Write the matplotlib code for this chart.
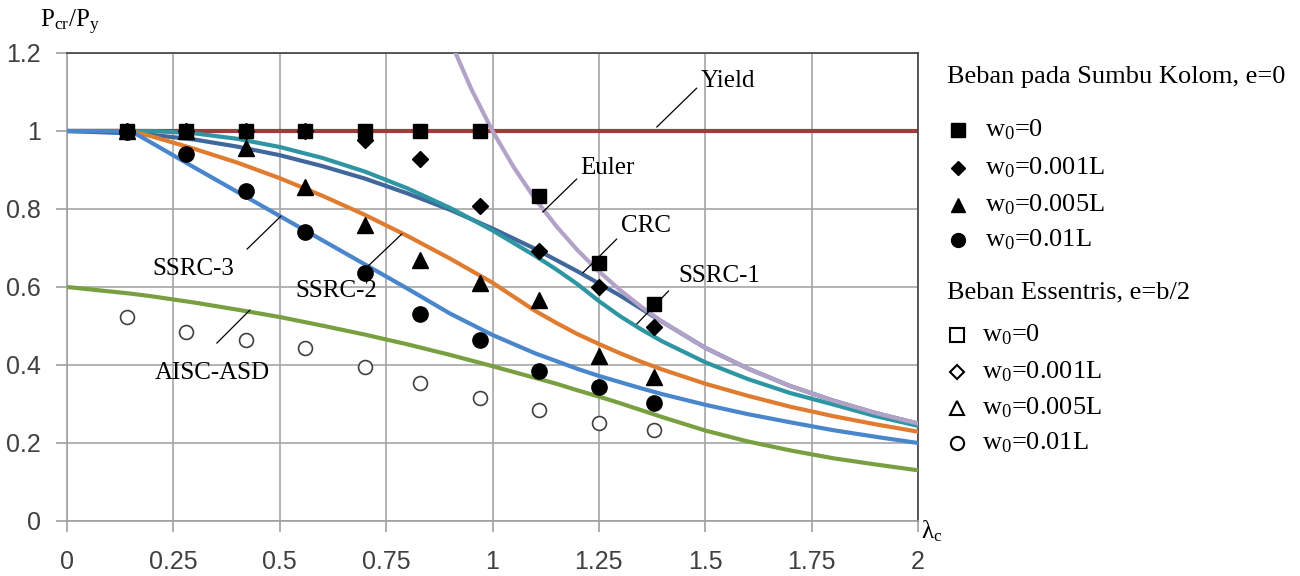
import matplotlib.pyplot as plt
from matplotlib.lines import Line2D

plt.rcParams['mathtext.fontset'] = 'custom'
plt.rcParams['mathtext.rm'] = 'Liberation Serif'
plt.rcParams['mathtext.it'] = 'Liberation Serif:italic'

# kurva teoritis
lam = [0, 0.15, 0.2, 0.3, 0.4, 0.5, 0.6, 0.7, 0.8, 0.9, 1.0, 1.1, 1.15, 1.2,
       1.25, 1.3, 1.35, 1.4, 1.5, 1.6, 1.7, 1.8, 1.9, 2.0]
crc = [1.0, 0.994, 0.990, 0.978, 0.960, 0.938, 0.910, 0.878, 0.840, 0.798, 0.750,
       0.698, 0.669, 0.640, 0.609, 0.578, 0.544, 0.510, 0.444, 0.391, 0.346, 0.309,
       0.277, 0.250]
ssrc1 = [1.0, 1.0, 1.0, 0.994, 0.980, 0.959, 0.931, 0.896, 0.853, 0.803, 0.745,
         0.680, 0.645, 0.607, 0.564, 0.525, 0.491, 0.460, 0.407, 0.364, 0.328, 0.299,
         0.269, 0.244]
ssrc2 = [1.0, 1.0, 0.986, 0.954, 0.919, 0.879, 0.834, 0.785, 0.731, 0.673, 0.611,
         0.539, 0.508, 0.479, 0.454, 0.430, 0.408, 0.388, 0.352, 0.321, 0.293, 0.269,
         0.248, 0.229]
ssrc3 = [1.0, 1.0, 0.969, 0.906, 0.844, 0.782, 0.720, 0.658, 0.596, 0.532, 0.477,
         0.430, 0.410, 0.390, 0.372, 0.356, 0.340, 0.325, 0.298, 0.274, 0.253, 0.233,
         0.216, 0.200]
aisc = [0.600, 0.583, 0.576, 0.560, 0.542, 0.523, 0.501, 0.478, 0.453, 0.426, 0.397,
        0.367, 0.352, 0.335, 0.319, 0.302, 0.284, 0.266, 0.232, 0.204, 0.181, 0.161,
        0.145, 0.130]

lam_euler = [0.91, 0.95, 1.0, 1.05, 1.1, 1.15, 1.2, 1.25, 1.3, 1.35, 1.4, 1.5, 1.6,
             1.7, 1.8, 1.9, 2.0]
euler = [1.208, 1.108, 1.0, 0.907, 0.826, 0.756, 0.694, 0.640, 0.592, 0.549, 0.510,
         0.444, 0.391, 0.346, 0.309, 0.277, 0.250]

lam_yield = [0, 2]
yield_ = [1.0, 1.0]

# hasil analisa
lam_test = [0.14, 0.28, 0.42, 0.56, 0.70, 0.83, 0.97, 1.11, 1.25, 1.38]
w0_0 = [1.0, 1.0, 1.0, 1.0, 1.0, 1.0, 1.0, 0.833, 0.662, 0.556]
w0_001 = [1.0, 1.0, 1.0, 1.0, 0.977, 0.928, 0.808, 0.692, 0.600, 0.497]
w0_005 = [1.0, 1.0, 0.956, 0.856, 0.759, 0.669, 0.610, 0.567, 0.423, 0.369]
w0_01 = [0.997, 0.941, 0.846, 0.741, 0.636, 0.531, 0.464, 0.385, 0.343, 0.302]
w0_01_e = [0.523, 0.485, 0.464, 0.444, 0.395, 0.354, 0.315, 0.285, 0.251, 0.233]

xticks = [0, 0.25, 0.5, 0.75, 1, 1.25, 1.5, 1.75, 2]
xlabels = ['0', '0.25', '0.5', '0.75', '1', '1.25', '1.5', '1.75', '2']
yticks = [0, 0.2, 0.4, 0.6, 0.8, 1.0, 1.2]
ylabels = ['0', '0.2', '0.4', '0.6', '0.8', '1', '1.2']

W, H = 1300, 576
fig = plt.figure(figsize=(13, 5.76), dpi=100)
ax = fig.add_axes([67 / W, 1 - 521 / H, (918 - 67) / W, (521 - 53) / H])

lw = 3.0
ax.plot(lam_yield, yield_, color='#A03C3C', lw=lw, zorder=2)
ax.plot(lam, crc, color='#41689C', lw=lw, zorder=3)
ax.plot(lam, ssrc1, color='#2E95A3', lw=lw, zorder=3)
ax.plot(lam, ssrc2, color='#E07C30', lw=lw, zorder=3)
ax.plot(lam, ssrc3, color='#4A86CB', lw=lw, zorder=3)
ax.plot(lam, aisc, color='#78A040', lw=lw, zorder=3)
ax.plot(lam_euler, euler, color='#B3A2C7', lw=lw, zorder=4)

ax.plot(lam_test, w0_01_e, 'o', ms=10, mfc='white', mec='#404040', mew=1.2, zorder=5)
ax.plot(lam_test, w0_01, 'o', ms=11, color='black', zorder=5)
ax.plot(lam_test, w0_005, '^', ms=11, color='black', zorder=5)
ax.plot(lam_test, w0_001, 'D', ms=8, color='black', zorder=5)
ax.plot(lam_test, w0_0, 's', ms=10, color='black', zorder=5)

ax.set_xlim(0, 2)
ax.set_ylim(0, 1.2)
ax.set_xticks(xticks)
ax.set_xticklabels(xlabels)
ax.set_yticks(yticks)
ax.set_yticklabels(ylabels)
ax.grid(True, color='#a6a6a6', lw=1.2)
ax.set_axisbelow(True)
for s in ['left', 'bottom']:
    ax.spines[s].set_color('#a0a0a0')
    ax.spines[s].set_linewidth(1.2)
for s in ['top', 'right']:
    ax.spines[s].set_color('#404040')
    ax.spines[s].set_linewidth(1.2)
ax.tick_params(axis='both', direction='out', length=8, width=1.2, color='#a0a0a0',
               labelcolor='#404040', labelsize=18)
ax.tick_params(axis='y', pad=11)
ax.tick_params(axis='x', pad=13)
for t in ax.get_xticklabels() + ax.get_yticklabels():
    t.set_fontfamily('Liberation Sans')

serif = 'Liberation Serif'
# label kurva
notes = [
    ('Yield', (1.386, 1.01), (1.48, 1.11), (1.553, 1.128)),
    ('Euler', (1.118, 0.792), (1.198, 0.877), (1.271, 0.905)),
    ('CRC', (1.212, 0.636), (1.292, 0.723), (1.360, 0.756)),
    ('SSRC-1', (1.339, 0.505), (1.414, 0.590), (1.534, 0.628)),
    ('SSRC-3', (0.423, 0.697), (0.503, 0.782), (0.296, 0.646)),
    ('SSRC-2', (0.705, 0.651), (0.787, 0.736), (0.632, 0.589)),
    ('AISC-ASD', (0.352, 0.456), (0.430, 0.541), (0.341, 0.379)),
]
for txt, p1, p2, pt in notes:
    ax.annotate('', xy=p1, xytext=p2,
                arrowprops=dict(arrowstyle='-', color='black', lw=0.9,
                                shrinkA=0, shrinkB=0), zorder=6)
    ax.text(pt[0], pt[1], txt, fontsize=18, family=serif, ha='center', va='center',
            zorder=6)

fig.text(40 / W, 1 - 22 / H, r'P$_\mathrm{cr}$/P$_\mathrm{y}$', fontsize=18,
         family=serif, ha='left', va='center')
fig.text(921 / W, 1 - 531 / H, r'λ$_\mathrm{c}$', fontsize=18, family=serif,
         ha='left', va='center')

# legenda
def fx(px):
    return px / W


def fy(py):
    return 1 - py / H


fig.text(fx(947), fy(77), 'Beban pada Sumbu Kolom, e=0', fontsize=19,
         family=serif, va='center')
fig.text(fx(947), fy(292), 'Beban Essentris, e=b/2', fontsize=19,
         family=serif, va='center')

leg_filled = [('s', 10, 130, r'w$_0$=0'), ('D', 7, 168, r'w$_0$=0.001L'),
              ('^', 10, 205, r'w$_0$=0.005L'), ('o', 10, 240, r'w$_0$=0.01L')]
for m, ms, py, lab in leg_filled:
    fig.add_artist(Line2D([fx(958)], [fy(py)], transform=fig.transFigure,
                          marker=m, ms=ms, color='black', ls='none'))
    fig.text(fx(985), fy(py), lab, fontsize=19, family=serif, va='center')

leg_open = [('s', 9.5, 335, r'w$_0$=0'), ('D', 7, 372, r'w$_0$=0.001L'),
            ('^', 9.5, 408, r'w$_0$=0.005L'), ('o', 9.5, 443, r'w$_0$=0.01L')]
for m, ms, py, lab in leg_open:
    fig.add_artist(Line2D([fx(957)], [fy(py)], transform=fig.transFigure,
                          marker=m, ms=ms, mfc='white', mec='black', mew=1.5,
                          ls='none'))
    fig.text(fx(982), fy(py), lab, fontsize=19, family=serif, va='center')

fig.savefig('out.png', dpi=100)
